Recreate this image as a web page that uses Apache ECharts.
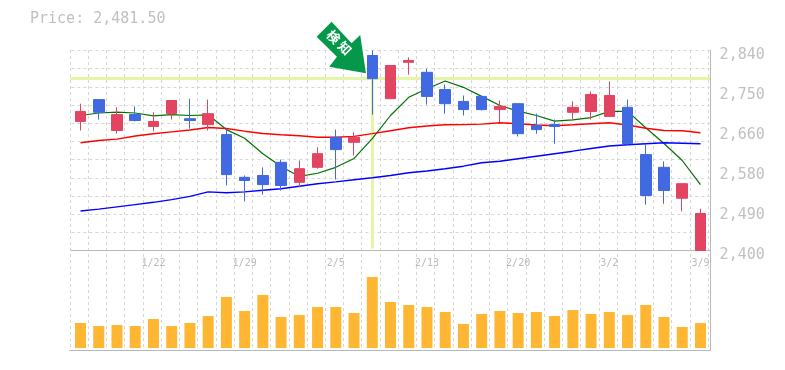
<!DOCTYPE html>
<html>
<head>
<meta charset="utf-8">
<style>html,body{margin:0;padding:0;background:#fff}#chart{width:785px;height:370px}</style>
<script src="https://cdn.jsdelivr.net/npm/echarts@6/dist/echarts.min.js"></script>
</head>
<body>
<div id="chart"></div>
<script>
const dates = ['1/16','1/17','1/18','1/19','1/22','1/23','1/24','1/25','1/26','1/29','1/30','1/31','2/1','2/2','2/5','2/6','2/7','2/8','2/9','2/13','2/14','2/15','2/16','2/19','2/20','2/21','2/26','2/27','3/1','3/2','3/5','3/6','3/7','3/8','3/9'];
const dateTicks = ['1/22','1/29','2/5','2/13','2/20','3/2','3/9'];
const priceTicks = ['2,400','2,490','2,580','2,660','2,750','2,840'];

const opens  = [2684,2732,2664,2699,2673,2701,2690,2677,2655,2561,2565,2594,2550,2583,2649,2638,2829,2734,2814,2792,2754,2728,2739,2710,2723,2675,2677,2704,2706,2695,2715,2611,2583,2515,2400];
const closes = [2706,2704,2699,2686,2684,2730,2686,2701,2567,2554,2545,2543,2580,2613,2622,2649,2778,2807,2818,2739,2723,2710,2710,2717,2657,2666,2673,2715,2743,2741,2635,2521,2532,2547,2481.5];
const lows   = [2664,2688,2657,2684,2662,2688,2668,2664,2543,2508,2523,2532,2539,2580,2556,2609,2699,2734,2787,2721,2701,2697,2708,2682,2651,2657,2635,2688,2688,2695,2631,2501,2503,2486,2400];
const highs  = [2723,2732,2715,2717,2704,2730,2734,2732,2668,2565,2583,2600,2598,2627,2666,2660,2840,2807,2825,2800,2765,2741,2739,2730,2723,2701,2688,2728,2750,2772,2732,2635,2596,2547,2492];

const maShort = [2697,2702.5,2704.5,2702.5,2696,2699,2697,2698.5,2666,2647,2613,2585,2563,2570,2583,2602.5,2646,2697,2737,2756,2773,2759,2739,2719,2706.5,2697,2684.5,2687.5,2692.5,2706,2706,2670,2635.5,2598,2545];
const maMid   = [2637,2642,2645,2652,2657,2661,2665,2670.5,2668.5,2662.5,2657.5,2654.5,2652.5,2649,2649,2651,2657,2663.5,2670,2674,2676.5,2677,2678,2681,2679,2676,2674.5,2676.5,2679,2681,2676,2669,2664,2663.5,2659];
const maLong  = [2487,2491,2496,2501,2506,2512,2519,2529,2527,2529,2532.5,2536,2541.5,2547,2551,2555.5,2560,2565,2571,2575,2580,2585.5,2593,2596.5,2602,2607.5,2613,2618.5,2624.5,2630,2632.5,2635,2637,2636,2635];
const volumes = [25,22,23,22,29,22,25,32,51,37,53,31,33,41,41,35,71,46,43,41,36,24,34,37,35,36,32,38,34,36,33,43,31,21,25];

const signalIndex = 16;
const signalPrice = 2779.5;
const lastPrice = '2,481.50';

const monoFont = '"DejaVu Sans Mono", monospace';
const gridLine = { show: true, lineStyle: { color: '#d6d6d6', width: 1, type: [3, 3] } };
const frameLine = { show: true, onZero: false, lineStyle: { color: '#b8b8b8', width: 1 } };
const hidden = { show: false };

const chart = echarts.init(document.getElementById('chart'), null, { renderer: 'canvas' });

const option = {
  animation: false,
  title: {
    text: 'Price: ' + lastPrice,
    left: 25,
    top: 7,
    textStyle: { color: '#c0c0c0', fontFamily: monoFont, fontSize: 15, fontWeight: 'normal' }
  },
  grid: [
    { left: 71.4, top: 50.5, width: 638.2, height: 200 }, // ローソク足
    { left: 71.4, top: 250, width: 638.2, height: 98 }, // 出来高
    { left: 70, top: 50, width: 638.2, height: 300 },   // 縦の点線
    { left: 70, top: 50, width: 640, height: 300 }      // 外枠
  ],
  xAxis: [
    { gridIndex: 0, type: 'category', data: dates, axisLine: frameLine, axisTick: hidden, axisLabel: hidden, splitLine: hidden },
    {
      gridIndex: 1, type: 'category', data: dates, position: 'top',
      axisLine: hidden, axisTick: hidden, splitLine: hidden,
      axisLabel: {
        inside: true, margin: 8, color: '#bbb', fontFamily: monoFont, fontSize: 10,
        interval: (i, name) => dateTicks.includes(name)
      }
    },
    { gridIndex: 2, type: 'category', data: dates, axisLine: hidden, axisTick: hidden, axisLabel: hidden, splitLine: Object.assign({ interval: 0 }, gridLine) },
    { gridIndex: 3, type: 'value', min: 0, max: 1, axisLine: frameLine, axisTick: hidden, axisLabel: hidden, splitLine: hidden }
  ],
  yAxis: [
    { gridIndex: 0, type: 'value', min: 2400, max: 2840, interval: 40, axisLine: hidden, axisTick: hidden, axisLabel: hidden, splitLine: gridLine },
    {
      gridIndex: 0, type: 'value', position: 'right', min: 2400, max: 2840, interval: 88,
      axisLine: hidden, axisTick: hidden, splitLine: hidden,
      axisLabel: {
        margin: 10, color: '#c0c0c0', fontFamily: monoFont, fontSize: 15, verticalAlign: 'top', lineHeight: 9,
        formatter: (v, i) => priceTicks[i]
      }
    },
    { gridIndex: 1, type: 'value', min: 0, max: 98, axisLine: hidden, axisTick: hidden, axisLabel: hidden, splitLine: hidden },
    { gridIndex: 2, type: 'value', axisLine: hidden, axisTick: hidden, axisLabel: hidden, splitLine: hidden },
    { gridIndex: 3, type: 'value', position: 'right', min: 0, max: 1, axisLine: frameLine, axisTick: hidden, axisLabel: hidden, splitLine: hidden }
  ],
  series: [
    {
      // シグナルの十字線
      type: 'line', xAxisIndex: 0, yAxisIndex: 0, z: 1, data: [], silent: true,
      markLine: {
        z: 1, silent: true, symbol: 'none', animation: false, label: hidden,
        lineStyle: { color: '#e4f5a8', width: 3, type: 'solid' },
        data: [
          [{ xAxis: signalIndex, yAxis: signalPrice }, { xAxis: signalIndex, yAxis: 2404 }],
          [{ xAxis: 0, yAxis: signalPrice, x: 70 }, { xAxis: 34, yAxis: signalPrice, x: 710 }]
        ]
      }
    },
    { type: 'line', xAxisIndex: 0, yAxisIndex: 0, z: 2, data: maShort, symbol: 'none', lineStyle: { color: '#007000', width: 1.2 } },
    { type: 'line', xAxisIndex: 0, yAxisIndex: 0, z: 2, data: maMid, symbol: 'none', lineStyle: { color: '#ff0000', width: 1.4 } },
    { type: 'line', xAxisIndex: 0, yAxisIndex: 0, z: 2, data: maLong, symbol: 'none', lineStyle: { color: '#0000ff', width: 1.4 } },
    {
      type: 'candlestick', xAxisIndex: 0, yAxisIndex: 0, z: 3, barWidth: 11,
      data: dates.map((d, i) => [opens[i], closes[i], lows[i], highs[i]]),
      itemStyle: { color: '#e24462', color0: '#4169e1', borderColor: '#e24462', borderColor0: '#4169e1', borderWidth: 1 },
      markPoint: {
        z: 10, silent: true, animation: false,
        data: [{
          coord: [signalIndex, highs[signalIndex]],
          symbol: 'path://M330.7 21.7L315.7 36.7L336 56.7L328.3 66.7L365 73.3L359.3 35L350.7 43.3Z',
          symbolSize: [49.3, 51.6],
          symbolOffset: [-31, -3],
          itemStyle: { color: '#04984a' },
          label: {
            show: true, position: 'inside', formatter: '検 知', rotate: -45, offset: [-5, -2],
            color: '#fff', fontFamily: '"Noto Sans CJK JP"', fontWeight: 'bold', fontSize: 13
          }
        }]
      }
    },
    {
      type: 'bar', xAxisIndex: 1, yAxisIndex: 2, z: 2, barWidth: 11, data: volumes,
      itemStyle: { color: '#ffb733' }
    }
  ]
};
chart.setOption(option);
</script>
</body>
</html>
